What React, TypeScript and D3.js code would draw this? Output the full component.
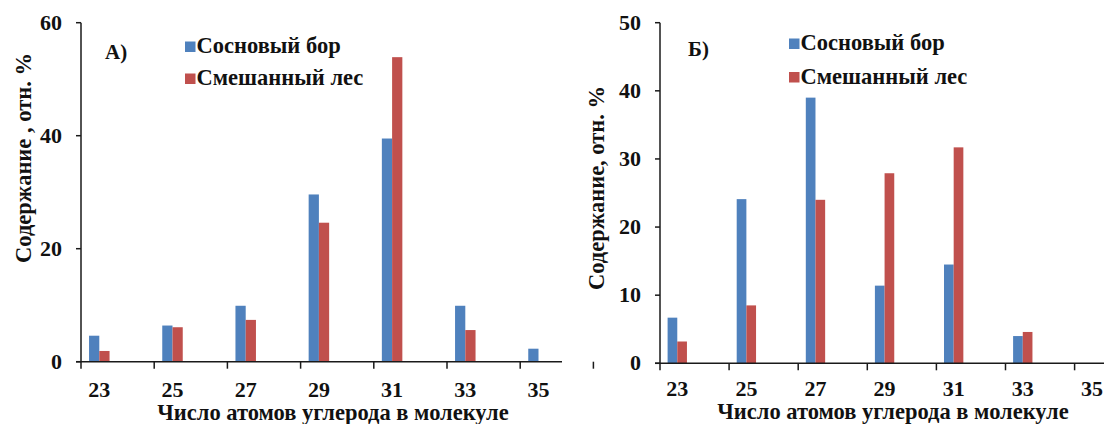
import React from "react";
import * as d3 from "d3";

// ---- data ----
const categories = ["23", "25", "27", "29", "31", "33", "35"];
const seriesNames = ["Сосновый бор", "Смешанный лес"];
const pineA = [4.6, 6.4, 9.9, 29.6, 39.5, 9.9, 2.3];
const mixedA = [1.9, 6.1, 7.4, 24.6, 53.9, 5.6, 0];
const pineB = [6.7, 24.1, 39.0, 11.4, 14.5, 4.0, 0];
const mixedB = [3.2, 8.5, 24.0, 27.9, 31.7, 4.6, 0];
const yTicksA = [0, 20, 40, 60];
const yTicksB = [0, 10, 20, 30, 40, 50];

const colors = ["#4F81BD", "#C0504D"];
const FONT = "Liberation Serif, Times New Roman, DejaVu Serif, serif";

type PanelProps = {
  letter: string;
  yTitle: string;
  pine: number[];
  mixed: number[];
  yTicks: number[];
  left: number; band: number; axisEnd: number;
  top: number; bottom: number;
  letterPos: [number, number];
  legend: { x: number; y: number; gap: number };
  yTitlePos: [number, number];
  xTitlePos: [number, number];
  xLabelY: number;
};

const txt = { fontFamily: FONT, fontWeight: 700, fill: "#111" } as React.CSSProperties;

function Panel(p: PanelProps) {
  const x = d3.scaleBand<string>()
    .domain(categories)
    .range([p.left, p.left + p.band * categories.length])
    .padding(0);
  const y = d3.scaleLinear()
    .domain([0, d3.max(p.yTicks) as number])
    .range([p.bottom, p.top]);
  const bw = x.bandwidth() * 0.14;
  const center = (c: string) => (x(c) as number) + x.bandwidth() * 0.25;
  const series = [p.pine, p.mixed];

  return (
    <g>
      {/* bars */}
      {series.map((vals, s) =>
        categories.map((c, i) => vals[i] > 0 ? (
          <rect key={s + "-" + c}
            x={center(c) - bw + s * bw} width={bw}
            y={y(vals[i])} height={y(0) - y(vals[i])}
            fill={colors[s]} />
        ) : null)
      )}
      {/* axes */}
      <line x1={p.left} x2={p.left} y1={y(d3.max(p.yTicks) as number)} y2={y(0) + 7}
        stroke="#1a1a1a" strokeWidth={1.5} />
      <line x1={p.left - 5} x2={p.axisEnd} y1={y(0)} y2={y(0)} stroke="#1a1a1a" strokeWidth={1.5} />
      {p.yTicks.map(t => (
        <g key={t}>
          <line x1={p.left - 5} x2={p.left} y1={y(t)} y2={y(t)} stroke="#1a1a1a" strokeWidth={1.5} />
          <text x={p.left - 19} y={y(t) + 7} textAnchor="end" fontSize={22} style={txt}>{t}</text>
        </g>
      ))}
      {categories.map(c => (
        <g key={c}>
          <line x1={(x(c) as number) + x.bandwidth()} x2={(x(c) as number) + x.bandwidth()}
            y1={y(0)} y2={y(0) + 7} stroke="#1a1a1a" strokeWidth={1.5} />
          <text x={center(c)} y={p.xLabelY} textAnchor="middle" fontSize={22} style={txt}>{c}</text>
        </g>
      ))}
      {/* panel letter */}
      <text x={p.letterPos[0]} y={p.letterPos[1]} fontSize={21} style={txt}>{p.letter}</text>
      {/* legend */}
      {seriesNames.map((n, i) => (
        <g key={n}>
          <rect x={p.legend.x} y={p.legend.y + i * p.legend.gap - 11.5} width={10.5} height={10.5} fill={colors[i]} />
          <text x={p.legend.x + 11.5} y={p.legend.y + i * p.legend.gap} fontSize={22.5} style={txt}>{n}</text>
        </g>
      ))}
      {/* titles */}
      <text transform={`translate(${p.yTitlePos[0]},${p.yTitlePos[1]}) rotate(-90)`}
        textAnchor="middle" fontSize={22.5} style={txt}>{p.yTitle}</text>
      <text x={p.xTitlePos[0]} y={p.xTitlePos[1]} textAnchor="middle" fontSize={22.5} style={txt}>
        Число атомов углерода в молекуле
      </text>
    </g>
  );
}

export default function App() {
  return (
    <div style={{ position: "absolute", left: 0, top: 0 }}>
      <svg width={1104} height={424} style={{ display: "block", background: "#fff" }}>
        <Panel letter="А)" yTitle="Содержание , отн. %" pine={pineA} mixed={mixedA} yTicks={yTicksA}
          left={81} band={73.2} axisEnd={562} top={22.7} bottom={361.7}
          letterPos={[105, 59]} legend={{ x: 185, y: 53, gap: 32 }}
          yTitlePos={[31, 158]} xTitlePos={[333, 420]} xLabelY={397} />
        <Panel letter="Б)" yTitle="Содержание, отн. %" pine={pineB} mixed={mixedB} yTicks={yTicksB}
          left={660} band={69.1} axisEnd={1104} top={22.7} bottom={363.3}
          letterPos={[688, 56]} legend={{ x: 789, y: 50, gap: 33.5 }}
          yTitlePos={[604, 188]} xTitlePos={[893, 419]} xLabelY={396} />
      </svg>
    </div>
  );
}
